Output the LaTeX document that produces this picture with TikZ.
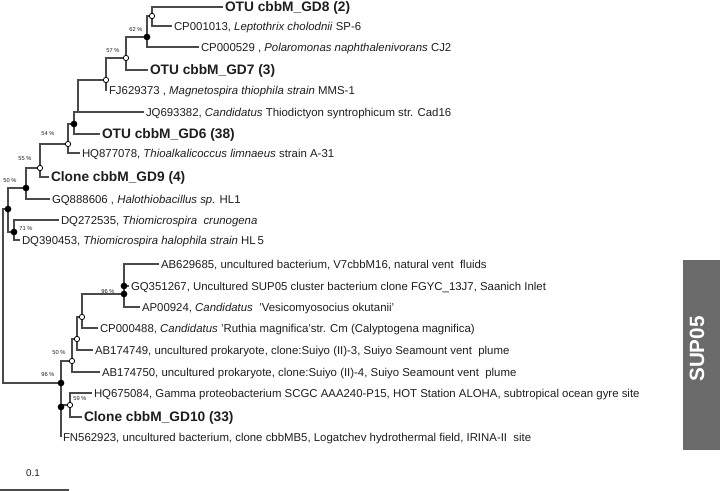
\documentclass[tikz,border=0pt]{standalone}
\usepackage{fontspec}
\setmainfont{Liberation Sans}

\definecolor{treeline}{HTML}{4A4A4A}
\definecolor{leaftext}{HTML}{1E1E1E}
\definecolor{supgray}{HTML}{6B6B6B}

\begin{document}
\begin{tikzpicture}[x=0.75pt, y=-0.75pt,
    branch/.style={draw=treeline, line width=0.8pt},
    leaf/.style={anchor=west, inner xsep=1.3pt, inner ysep=0pt, text depth=0pt, text=leaftext,
      font=\fontsize{8.55}{9}\selectfont},
    otu/.style={leaf, font=\fontsize{10.3}{11}\selectfont\bfseries},
    openpt/.style={circle, draw=black, fill=white, line width=0.6pt, inner sep=0pt, minimum size=4pt},
    fullpt/.style={circle, fill=black, inner sep=0pt, minimum size=5pt},
    boot/.style={inner sep=0pt, text=leaftext, font=\fontsize{4.3}{5}\selectfont}]
  \useasboundingbox (0,0) rectangle (720,491);

  % inner nodes of the tree
  \coordinate (x1) at (152,16);
  \coordinate (x2) at (147,37);
  \coordinate (x3) at (126,58);
  \coordinate (x4) at (106,80);
  \coordinate (x5) at (78,112);
  \coordinate (x6) at (74,124);
  \coordinate (x7) at (68,144);
  \coordinate (i) at (40,168);
  \coordinate (h) at (26,188);
  \coordinate (g) at (14,232);
  \coordinate (t) at (8,209);
  \coordinate (a2) at (124,286);
  \coordinate (a) at (124,294);
  \coordinate (b) at (82,317);
  \coordinate (c) at (77,339);
  \coordinate (d) at (72,361);
  \coordinate (f) at (70,405);
  \coordinate (e2) at (61,407);
  \coordinate (e) at (61,383);
  \coordinate (root) at (3,296);

  % leaves
  \node[otu] (gd8) at (223,7) {OTU cbbM\_GD8 (2)};
  \node[leaf] (cp001013) at (172,26) {CP001013, \textit{Leptothrix cholodnii} SP-6};
  \node[leaf] (cp000529) at (199,47) {CP000529\ , \textit{Polaromonas naphthalenivorans} CJ2};
  \node[otu] (gd7) at (148,70) {OTU cbbM\_GD7 (3)};
  \node[leaf] (fj629373) at (107,90) {FJ629373\ , \textit{Magnetospira thiophila strain} MMS-1};
  \node[leaf] (jq693382) at (144,112) {JQ693382, \textit{Candidatus} Thiodictyon syntrophicum str. Cad16};
  \node[otu] (gd6) at (100,134) {OTU cbbM\_GD6 (38)};
  \node[leaf] (hq877078) at (80,153) {HQ877078, \textit{Thioalkalicoccus limnaeus} strain A-31};
  \node[otu] (gd9) at (49,177) {Clone cbbM\_GD9 (4)};
  \node[leaf] (gq888606) at (50,199) {GQ888606\ , \textit{Halothiobacillus sp.} HL1};
  \node[leaf] (dq272535) at (59,220) {DQ272535, \textit{Thiomicrospira\ \ crunogena}};
  \node[leaf] (dq390453) at (20,240) {DQ390453, \textit{Thiomicrospira halophila strain} HL\,5};
  \node[leaf] (ab629685) at (159,264) {AB629685, uncultured bacterium, V7cbbM16, natural vent\ \ fluids};
  \node[leaf] (gq351267) at (129,286) {GQ351267, Uncultured SUP05 cluster bacterium clone FGYC\_13J7, Saanich Inlet};
  \node[leaf] (ap00924) at (140,307) {AP00924, \textit{Candidatus}\ \ 'Vesicomyosocius okutanii'};
  \node[leaf] (cp000488) at (98,328) {CP000488, \textit{Candidatus} 'Ruthia magnifica'str. Cm (Calyptogena magnifica)};
  \node[leaf] (ab174749) at (93,350) {AB174749, uncultured prokaryote, clone:Suiyo (II)-3, Suiyo Seamount vent\ \ plume};
  \node[leaf] (ab174750) at (100,372) {AB174750, uncultured prokaryote, clone:Suiyo (II)-4, Suiyo Seamount vent\ \ plume};
  \node[leaf] (hq675084) at (92,393) {HQ675084, Gamma proteobacterium SCGC AAA240-P15, HOT Station ALOHA, subtropical ocean gyre site};
  \node[otu] (gd10) at (82,417) {Clone cbbM\_GD10 (33)};
  \node[leaf] (fn562923) at (61,437) {FN562923, uncultured bacterium, clone cbbMB5, Logatchev hydrothermal field, IRINA-II\ \ site};

  % branches
  \draw[branch] (x1) |- (gd8) (x1) |- (cp001013);
  \draw[branch] (x2) |- (x1) (x2) |- (cp000529);
  \draw[branch] (x3) |- (x2) (x3) |- (gd7);
  \draw[branch] (x4) |- (x3) (x4) |- (fj629373);
  \draw[branch] (x5) |- (x4) (x5) |- (jq693382);
  \draw[branch] (x6) |- (x5) (x6) |- (gd6);
  \draw[branch] (x7) |- (x6) (x7) |- (hq877078);
  \draw[branch] (i) |- (x7) (i) |- (gd9);
  \draw[branch] (h) |- (i) (h) |- (gq888606);
  \draw[branch] (g) |- (dq272535) (g) |- (dq390453);
  \draw[branch] (t) |- (h) (t) |- (g);
  \draw[branch] (a2) |- (ab629685) (a2) |- (gq351267);
  \draw[branch] (a) |- (a2) (a) |- (ap00924);
  \draw[branch] (b) |- (a) (b) |- (cp000488);
  \draw[branch] (c) |- (b) (c) |- (ab174749);
  \draw[branch] (d) |- (c) (d) |- (ab174750);
  \draw[branch] (f) |- (hq675084) (f) |- (gd10);
  \draw[branch] (e2) |- (f) (e2) |- (fn562923);
  \draw[branch] (e) |- (d) (e) |- (e2);
  \draw[branch] (root) |- (t) (root) |- (e);

  % bootstrap marks
  \foreach \n in {x1,x3,x4,x7,i,b,c,d,f}
    \node[openpt] (\n dot) at (\n) {};
  \foreach \n in {x2,x6,h,t,g,a2,a,e,e2}
    \node[fullpt] (\n dot) at (\n) {};

  \node[boot] (bs62) at (136,30) {62 \%};
  \node[boot] (bs57) at (113,51) {57 \%};
  \node[boot] (bs54) at (48,134) {54 \%};
  \node[boot] (bs55) at (25,159) {55 \%};
  \node[boot] (bs50a) at (10,181) {50 \%};
  \node[boot] (bs71) at (26,229) {71 \%};
  \node[boot] (bs96a) at (108,292) {96 \%};
  \node[boot] (bs50b) at (59,353) {50 \%};
  \node[boot] (bs96b) at (48,375) {96 \%};
  \node[boot] (bs59) at (80,399) {59 \%};

  % scale bar
  \coordinate (sb0) at (0,490);
  \coordinate (sb1) at (69,490);
  \draw[branch] (sb0) -- (sb1);
  \node[text=leaftext, font=\fontsize{7.4}{8}\selectfont] (sblabel) at (33,473) {0.1};

  % SUP05 cluster bar
  \node[fill=supgray, inner sep=0pt, minimum width=27.75pt, minimum height=142.5pt] (supbar) at (701.5,355) {};
  \node[rotate=90, text=white, font=\fontsize{15.5}{16}\selectfont\bfseries] (suplabel) at (697,349) {SUP05};
\end{tikzpicture}
\end{document}
